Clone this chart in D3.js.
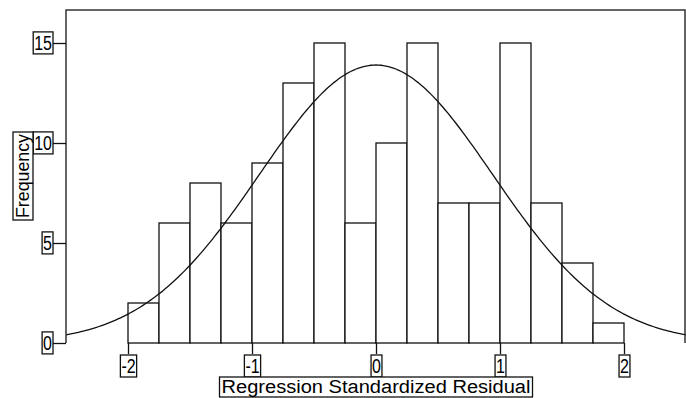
<!DOCTYPE html>
<html>
<head>
<meta charset="utf-8">
<script src="https://cdn.jsdelivr.net/npm/d3@7"></script>
<style>
	body { margin: 0; background: #fff; }
	svg { display: block; }
	text { font-family: "Liberation Sans", Arial, sans-serif; fill: #000; }
</style>
</head>
<body>
<div id="chart"></div>
<script>
// histogram bins (lower edges, width 0.25) and counts
const binEdges = [-2, -1.75, -1.5, -1.25, -1, -0.75, -0.5, -0.25, 0, 0.25, 0.5, 0.75, 1, 1.25, 1.5, 1.75, 2];
const frequencies = [2, 6, 8, 6, 9, 13, 15, 6, 10, 15, 7, 7, 15, 7, 4, 1];
const xTicks = [-2, -1, 0, 1, 2];
const yTicks = [0, 5, 10, 15];
// normal curve parameters
const curveMean = 0;
const curveStdDev = 0.94;
const curveN = 131;

const W = 686, H = 398;
const margin = { top: 10, right: 0, bottom: 55, left: 66 };

const svg = d3.select("#chart").append("svg")
	.attr("width", W)
	.attr("height", H);

const x = d3.scaleLinear().domain([-2.5, 2.5]).range([margin.left, W - margin.right]);
const y = d3.scaleLinear().domain([0, 16.65]).range([H - margin.bottom, margin.top]);

const bins = frequencies.map((f, i) => ({ x0: binEdges[i], x1: binEdges[i + 1], count: f }));

// bars
svg.append("g").selectAll("rect").data(bins).enter()
	.append("rect")
	.attr("x", d => x(d.x0))
	.attr("y", d => y(d.count))
	.attr("width", d => x(d.x1) - x(d.x0))
	.attr("height", d => y(0) - y(d.count))
	.attr("fill", "#fff")
	.attr("stroke", "#111")
	.attr("stroke-width", 1.3);

// normal curve
const binWidth = binEdges[1] - binEdges[0];
const curvePts = d3.range(-2.5, 2.501, 0.02).map(v => [v,
	curveN * binWidth * Math.exp(-0.5 * ((v - curveMean) / curveStdDev) ** 2) / (curveStdDev * Math.sqrt(2 * Math.PI))]);
svg.append("path")
	.datum(curvePts)
	.attr("fill", "none")
	.attr("stroke", "#111")
	.attr("stroke-width", 1.3)
	.attr("d", d3.line().x(d => x(d[0])).y(d => y(d[1])));

// frame
svg.append("path")
	.attr("d", `M${x(-2.5)},${y(0)}V${margin.top}H${W - 1}V${y(0)}`)
	.attr("fill", "none")
	.attr("stroke", "#333")
	.attr("stroke-width", 1.5);

// squeeze a label to a narrower look and box it
function boxLabels (sel, stretch) {
	sel.selectAll(".tick text").each(function () {
		const t = d3.select(this);
		t.attr("font-size", 20).attr("fill", "#000");
		const len = this.getComputedTextLength();
		t.attr("textLength", len * stretch).attr("lengthAdjust", "spacingAndGlyphs");
		const b = this.getBBox();
		d3.select(this.parentNode).insert("rect", "text")
			.attr("x", b.x - 1).attr("y", b.y)
			.attr("width", b.width + 2).attr("height", b.height)
			.attr("fill", "#fff")
			.attr("stroke", "#111")
			.attr("stroke-width", 1.3);
	});
}

const plainInt = d => String(d); // plain hyphen for negatives, as in the original

// y axis
const gy = svg.append("g")
	.attr("transform", `translate(${margin.left},0)`)
	.call(d3.axisLeft(y).tickValues(yTicks).tickSize(13).tickPadding(1).tickFormat(plainInt));
gy.select(".domain").remove();
gy.selectAll(".tick line").attr("stroke", "#111").attr("stroke-width", 1.3);
gy.selectAll(".tick text").attr("font-family", null);
boxLabels(gy, 0.8);

// x axis
const gx = svg.append("g")
	.attr("transform", `translate(0,${y(0)})`)
	.call(d3.axisBottom(x).tickValues(xTicks).tickSize(11).tickPadding(2).tickFormat(plainInt));
gx.select(".domain").remove();
gx.selectAll(".tick line").attr("stroke", "#111").attr("stroke-width", 1.3);
gx.selectAll(".tick text").attr("font-family", null).attr("dy", "0.85em");
boxLabels(gx, 0.8);

// axis titles
function boxedTitle (g, label, len) {
	const t = g.append("text")
		.attr("text-anchor", "middle")
		.attr("font-size", 18)
		.attr("textLength", len)
		.attr("lengthAdjust", "spacingAndGlyphs")
		.text(label);
	const b = t.node().getBBox();
	g.insert("rect", "text")
		.attr("x", b.x - 2).attr("y", b.y)
		.attr("width", b.width + 4).attr("height", b.height)
		.attr("fill", "#fff")
		.attr("stroke", "#111")
		.attr("stroke-width", 1.3);
}

boxedTitle(svg.append("g").attr("transform", "translate(376,393)"), "Regression Standardized Residual", 309);
boxedTitle(svg.append("g").attr("transform", "translate(29,176) rotate(-90)"), "Frequency", 84);
</script>
</body>
</html>
